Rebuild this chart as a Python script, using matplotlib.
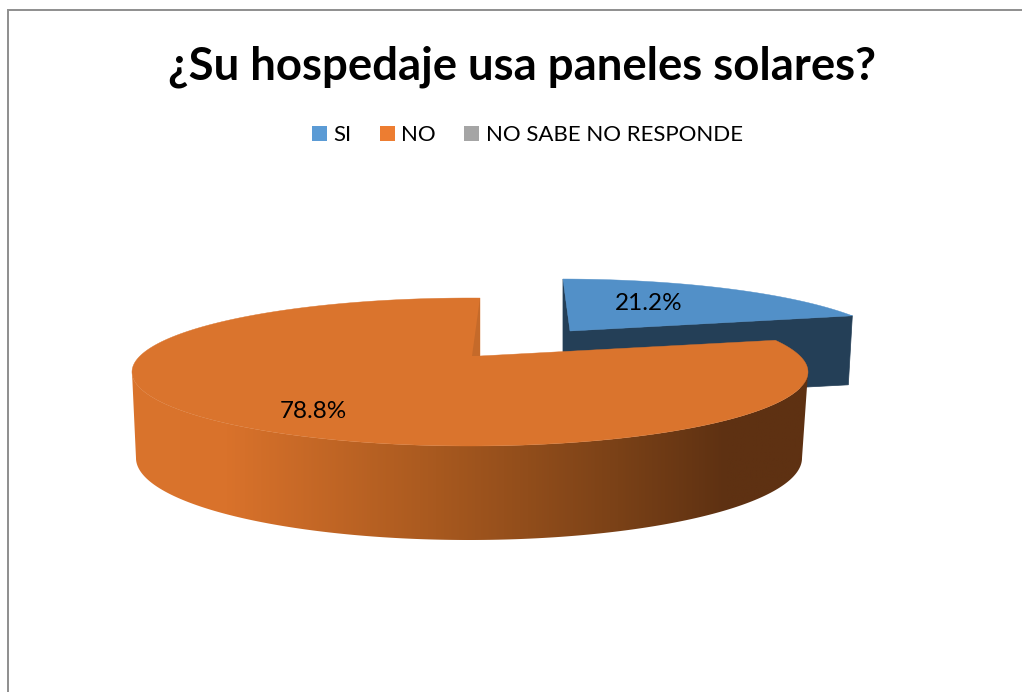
import numpy as np
import matplotlib.pyplot as plt
from matplotlib.patches import Patch, Polygon
from matplotlib.colors import LinearSegmentedColormap

categories = ["SI", "NO", "NO SABE NO RESPONDE"]
values = [21.2, 78.8, 0.0]
legend_colors = ["#5b9bd5", "#ed7d31", "#a5a5a5"]
title = "¿Su hospedaje usa paneles solares?"


def ray_hit(theta, apex, ell, shear=0.0):
    # theta is clockwise from the top, ray from the apex to the rim
    cx, cy, a, b = ell
    dx = a * np.sin(theta) - shear * b * np.cos(theta)
    dy = -b * np.cos(theta)
    ox = apex[0] - cx
    oy = apex[1] - cy
    qa = (dx / a) ** 2 + (dy / b) ** 2
    qb = 2 * (ox * dx / a**2 + oy * dy / b**2)
    qc = (ox / a) ** 2 + (oy / b) ** 2 - 1
    t = (-qb + np.sqrt(qb**2 - 4 * qa * qc)) / (2 * qa)
    return apex[0] + t * dx, apex[1] + t * dy


def rim(start, end, apex, ell, shear=0.0):
    thetas = np.linspace(start, end, 300)
    return [ray_hit(th, apex, ell, shear) for th in thetas]


fig = plt.figure(figsize=(10.22, 6.92), dpi=100)
ax = fig.add_axes([0, 0, 1, 1])
ax.axis("off")

ax.plot([8, 8, 1022], [692, 10, 10], color="#8e8e8e", lw=1.4, solid_joinstyle="miter")

split = 2 * np.pi * values[0] / sum(values)

# blue slice, pulled out
blue_apex = (570, 331)
blue_ell = (561, 353, 337, 74)
blue_rim = rim(0, split, blue_apex, blue_ell, shear=0.135)
first = blue_rim[0]
last = blue_rim[-1]
ax.add_patch(Polygon([first, blue_apex, last, (last[0] - 4, last[1] + 69), (first[0], first[1] + 121)],
                     closed=True, fc="#243f57", ec="#243f57", lw=0.5, zorder=2))
ax.add_patch(Polygon([blue_apex] + blue_rim, closed=True, fc="#5290c8", ec="#5290c8", lw=0.3, zorder=3))

# orange slice
apex = (480, 356)
top_ell = (470, 372, 338, 74)
bot_ell = (469, 458, 333, 82)
shade = LinearSegmentedColormap.from_list(
    "shade",
    [(0.0, "#da742d"), (0.14, "#d9722b"), (0.45, "#a8591f"), (0.72, "#7a4117"), (0.88, "#5e3112"), (1.0, "#5e3112")],
)
ts = np.linspace(np.pi, 2 * np.pi, 361)
wall = [(top_ell[0] + top_ell[2] * np.cos(t), top_ell[1] - top_ell[3] * np.sin(t)) for t in ts]
wall += [(bot_ell[0] + bot_ell[2] * np.cos(t), bot_ell[1] - bot_ell[3] * np.sin(t)) for t in ts[::-1]]
wall_patch = Polygon(wall, closed=True, fc="none", ec="none", transform=ax.transData, zorder=4)
ax.add_patch(wall_patch)
grad = ax.imshow(np.linspace(0, 1, 512).reshape(1, -1), cmap=shade, aspect="auto",
                 extent=(132, 808, 560, 360), zorder=4)
grad.set_clip_path(wall_patch)

orange_rim = rim(split, 2 * np.pi, apex, top_ell)
ax.add_patch(Polygon([apex] + orange_rim, closed=True, fc="#da742d", ec="#da742d", lw=0.3, zorder=5))
# inner wall seen at the cut
ax.add_patch(Polygon([orange_rim[-1], apex, (apex[0] - 8, apex[1])], closed=True, fc="#c56a2a", ec="none", zorder=6))

ax.text(649, 304, f"{values[0]:.1f}%", ha="center", va="center", fontsize=17.5, family="Lato", color="black", zorder=7)
ax.text(313, 412, f"{values[1]:.1f}%", ha="center", va="center", fontsize=17.5, family="Lato", color="black", zorder=7)

ax.text(522, 67, title, ha="center", va="center", fontsize=32.8, fontweight="bold", family="Lato", color="black")

ax.set_xlim(0, 1022)
ax.set_ylim(692, 0)

handles = [Patch(fc=c, ec="none") for c in legend_colors]
ax.legend(handles, categories, ncol=3, loc="center", bbox_to_anchor=(527.5, 135),
          bbox_transform=ax.transData, frameon=False,
          prop={"family": "Lato", "size": 16},
          handlelength=0.66, handleheight=0.66, handletextpad=0.3, columnspacing=1.28)

fig.savefig("out.png", dpi=100)
